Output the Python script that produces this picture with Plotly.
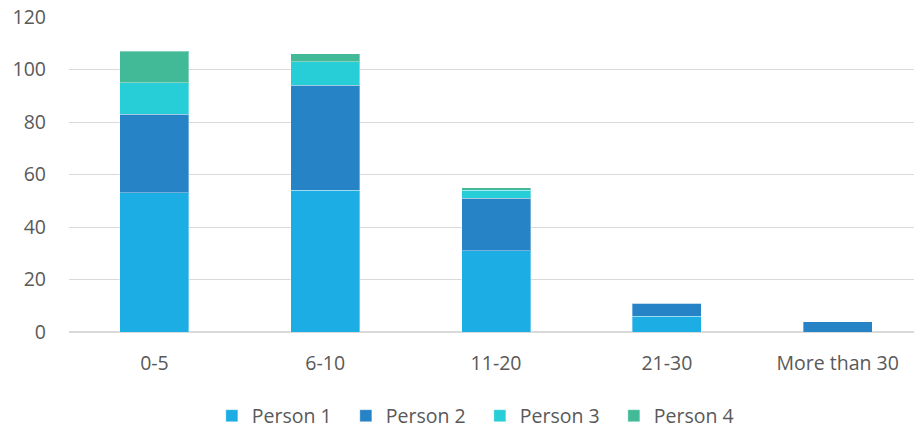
import plotly.graph_objects as go

categories = ["0-5", "6-10", "11-20", "21-30", "More than 30"]
person1 = [53, 54, 31, 6, 0]
person2 = [30, 40, 20, 5, 4]
person3 = [12, 9, 3, 0, 0]
person4 = [12, 3, 1, 0, 0]
series_names = ["Person 1", "Person 2", "Person 3", "Person 4"]
colors = ["#1CADE4", "#2683C6", "#27CED7", "#42BA97"]
y_ticks = [0, 20, 40, 60, 80, 100, 120]

fig = go.Figure()
for name, vals, col in zip(series_names, [person1, person2, person3, person4], colors):
    fig.add_trace(go.Bar(
        x=categories, y=vals, name=name,
        marker=dict(color=col, line=dict(color="rgba(255,255,255,0.35)", width=1)),
    ))

font = dict(family="Open Sans", size=19.5, color="#595959")
fig.update_layout(
    barmode="stack",
    bargap=0.596,
    width=914, height=428,
    margin=dict(l=69, r=0, t=17, b=96),
    plot_bgcolor="white", paper_bgcolor="white",
    font=font,
    showlegend=True,
    legend=dict(
        orientation="h", xref="container", yref="container",
        x=0.525, xanchor="center", y=0.028, yanchor="middle",
        font=font, entrywidth=89, itemwidth=30, traceorder="normal",
    ),
    xaxis=dict(
        range=[-0.5, 4.447], showgrid=False, showline=False, zeroline=False,
        ticks="", ticklabelstandoff=17, tickfont=font,
    ),
    yaxis=dict(
        range=[0, 120], tickvals=y_ticks, showgrid=True, gridcolor="#D9D9D9",
        gridwidth=1, zeroline=True, zerolinecolor="#D9D9D9", zerolinewidth=1.5,
        showline=False, ticks="", ticklabelstandoff=22, tickfont=font,
    ),
)
fig.write_html(
    "out.html",
    config={"displayModeBar": False},
    post_script="document.body.style.margin='0';document.body.style.overflow='hidden';",
)
